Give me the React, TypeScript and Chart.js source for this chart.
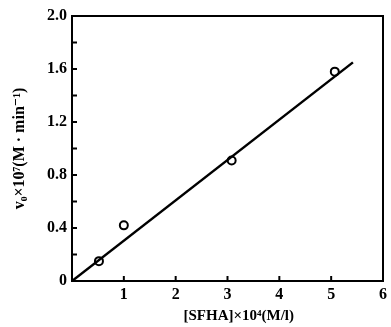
import React, { useEffect, useRef } from "react";
import { Chart, registerables } from "chart.js";

Chart.register(...registerables);

const xValues = [0.52, 1.0, 3.08, 5.07];
const yValues = [0.15, 0.42, 0.91, 1.58];
const fitX = [0, 5.42];
const fitY = [0, 1.65];
const yTickLabels = ["0", "0.4", "0.8", "1.2", "1.6", "2.0"];
const xTickLabels = ["", "1", "2", "3", "4", "5", "6"];

const serif = "'Liberation Serif', 'DejaVu Serif', serif";

const framePlugin = {
  id: "frame",
  afterDraw(chart: any) {
    const { ctx, chartArea } = chart;
    const xs = chart.scales.x;
    const ys = chart.scales.y;
    ctx.save();
    ctx.strokeStyle = "#000";
    ctx.lineWidth = 2;
    ctx.strokeRect(chartArea.left, chartArea.top, chartArea.right - chartArea.left, chartArea.bottom - chartArea.top);
    for (let v = 0.2; v < 2.0; v += 0.2) {
      const py = ys.getPixelForValue(v);
      ctx.beginPath();
      ctx.moveTo(chartArea.left, py);
      ctx.lineTo(chartArea.left + 5, py);
      ctx.stroke();
    }
    for (let v = 1; v < 6; v += 1) {
      const px = xs.getPixelForValue(v);
      ctx.beginPath();
      ctx.moveTo(px, chartArea.bottom);
      ctx.lineTo(px, chartArea.bottom - 5);
      ctx.stroke();
    }
    ctx.restore();
  },
};

export default function App() {
  const ref = useRef<HTMLCanvasElement>(null);
  useEffect(() => {
    document.body.style.margin = "0";
    const chart = new Chart(ref.current!, {
      type: "scatter",
      data: {
        datasets: [
          {
            type: "line",
            data: fitX.map((x, i) => ({ x, y: fitY[i] })),
            borderColor: "#000",
            borderWidth: 2.5,
            pointRadius: 0,
            fill: false,
          } as any,
          {
            data: xValues.map((x, i) => ({ x, y: yValues[i] })),
            pointRadius: 4,
            pointBorderWidth: 2,
            pointBorderColor: "#000",
            pointBackgroundColor: "#fff",
          },
        ],
      },
      options: {
        animation: false,
        responsive: false,
        layout: { padding: { top: 16, right: 7, left: 0, bottom: 0 } },
        plugins: { legend: { display: false }, tooltip: { enabled: false } },
        scales: {
          x: {
            type: "linear",
            min: 0,
            max: 6,
            afterFit(s: any) { s.height = 46; },
            ticks: {
              stepSize: 1,
              color: "#000",
              font: { family: serif, size: 16, weight: "bold" },
              padding: 4,
              callback: (v: any) => xTickLabels[Math.round(Number(v))] ?? "",
            },
            grid: { display: false, drawTicks: false, tickLength: 0 },
            border: { display: false },
            title: {
              display: true,
              text: "\u2003\u2002[SFHA]×10⁴(M/l)",
              color: "#000",
              font: { family: serif, size: 15, weight: "bold" },
              padding: { top: 0, bottom: 2 },
            },
          },
          y: {
            type: "linear",
            min: 0,
            max: 2.0,
            afterFit(s: any) { s.width = 72; },
            ticks: {
              stepSize: 0.4,
              color: "#000",
              font: { family: serif, size: 16, weight: "bold" },
              padding: 5,
              callback: (v: any) => yTickLabels[Math.round(Number(v) / 0.4)] ?? "",
            },
            grid: { display: false, drawTicks: false, tickLength: 0 },
            border: { display: false },
            title: {
              display: true,
              text: "v₀×10⁷(M · min⁻¹)",
              color: "#000",
              font: { family: serif, size: 16, weight: "bold" },
              padding: { top: 10, bottom: 0 },
            },
          },
        },
      },
      plugins: [framePlugin],
    } as any);
    return () => chart.destroy();
  }, []);
  return <canvas ref={ref} width={391} height={327} style={{ display: "block" }} />;
}
